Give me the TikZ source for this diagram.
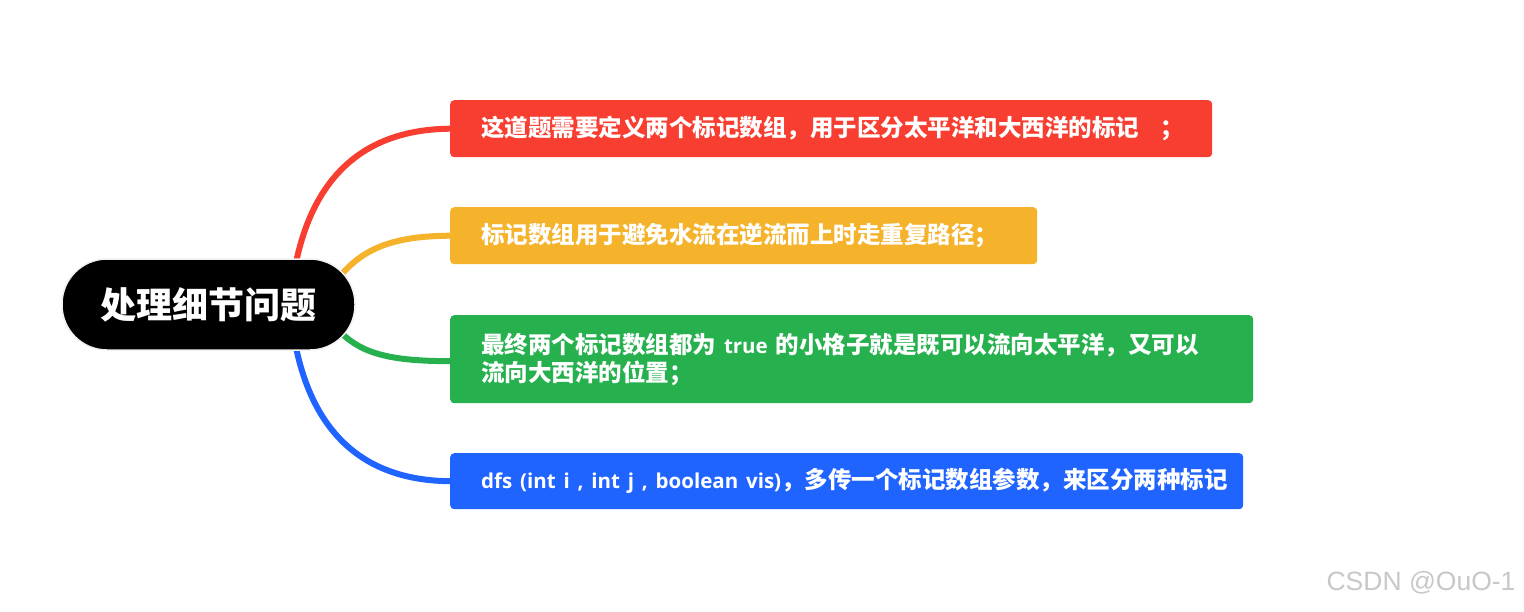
\documentclass[tikz,border=0pt]{standalone}
\usepackage{fontspec}
\newfontfamily\cjk{Noto Sans CJK SC}
\newfontfamily\lat{Open Sans}
\newfontfamily\wmfont{Liberation Sans}
\definecolor{cred}{HTML}{F73E31}
\definecolor{cyellow}{HTML}{F5B22B}
\definecolor{cgreen}{HTML}{27B14E}
\definecolor{cblue}{HTML}{1F64FF}
\definecolor{wmgray}{HTML}{C8C8C8}
\newcommand{\latrun}[1]{{\lat\bfseries\fontsize{20.5}{28}\selectfont #1}}
\begin{document}
\begin{tikzpicture}[x=1pt,y=-1pt,
  leaf/.style={anchor=north west, rounded corners=4pt, text=white,
    font=\cjk\bfseries\fontsize{23.5}{28}\selectfont, align=left,
    inner xsep=31pt, inner ysep=0pt},
  conn/.style={line width=6pt, line cap=round}]
\useasboundingbox[fill=white] (0,0) rectangle (1524,611);
% boxes
\node[leaf, fill=cred, text width=700pt, minimum height=57pt] (b1) at (450,100) {\mbox{这道题需要定义两个标记数组，用于区分太平洋和大西洋的标记\hspace{0.9em}；}};
\node[leaf, fill=cyellow, text width=525pt, minimum height=57pt] (b2) at (450,207) {\mbox{标记数组用于避免水流在逆流而上时走重复路径；}};
\node[leaf, fill=cgreen, text width=741pt, minimum height=88pt] (b3) at (450,315) {\mbox{最终两个标记数组都为\latrun{\ true\ }的小格子就是既可以流向太平洋，又可以}\\\mbox{流向大西洋的位置；}};
\node[leaf, fill=cblue, text width=731pt, minimum height=56pt] (b4) at (450,453) {\mbox{\latrun{dfs (int i , int j , boolean vis)}，多传一个标记数组参数，来区分两种标记}};
% connectors
\coordinate (rootu) at (290,305);
\coordinate (rootm) at (318,305);
\draw[conn, cred] (rootu) .. controls +(10,-120) and +(-95,0) .. ([xshift=2pt]b1.west);
\draw[conn, cyellow] (rootm) .. controls +(30,-42) and +(-85,0) .. ([xshift=2pt]b2.west);
\draw[conn, cgreen] (rootm) .. controls +(30,42) and +(-85,0) .. ([xshift=2pt,yshift=-2pt]b3.west);
\draw[conn, cblue] (rootu) .. controls +(10,120) and +(-95,0) .. ([xshift=2pt]b4.west);
% root
\node[fill=black, draw=gray!12, line width=1.5pt, rounded corners=45pt,
  minimum width=293pt, minimum height=91pt, text=white,
  font=\cjk\bfseries\fontsize{36}{40}\selectfont] (root) at (208.5,304.5) {处理细节问题};
% watermark
\node[font=\wmfont\fontsize{26.5}{28}\selectfont, text=wmgray, anchor=east] (wm) at (1519,583) {CSDN @OuO-1};
\end{tikzpicture}
\end{document}
